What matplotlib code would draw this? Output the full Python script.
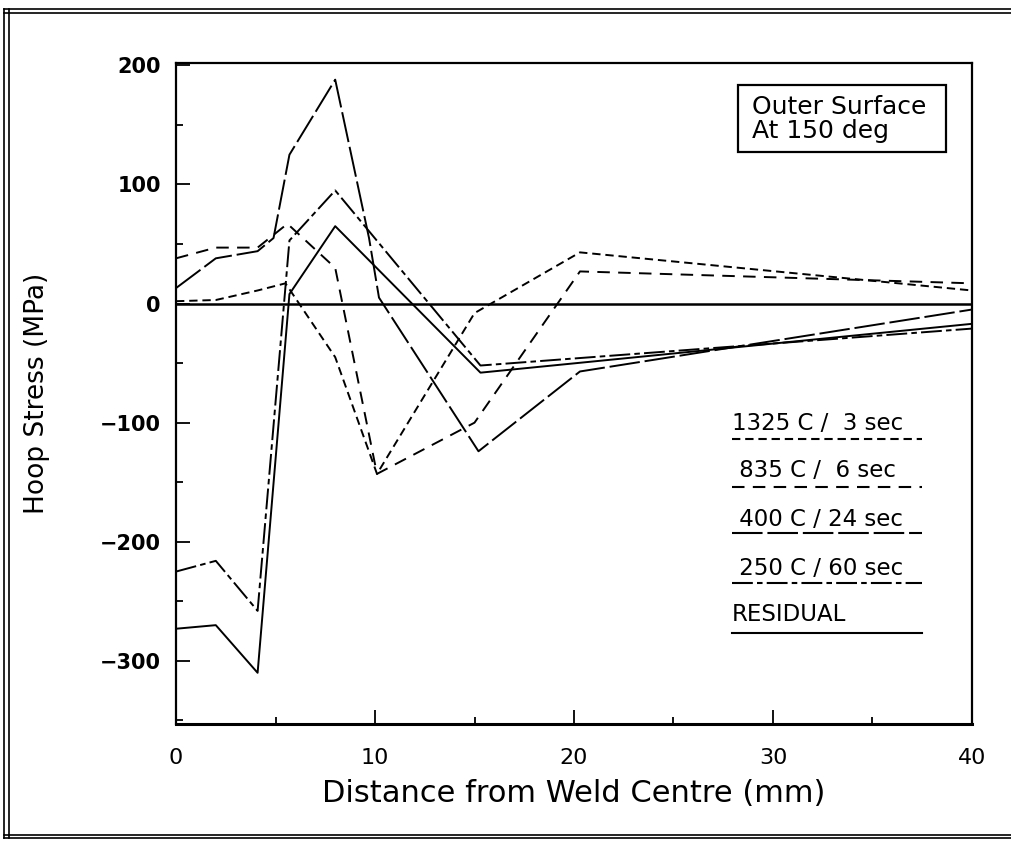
import matplotlib
matplotlib.use("Agg")
import matplotlib.pyplot as plt
from matplotlib.lines import Line2D
from matplotlib.patches import Rectangle

plt.rcParams["font.family"] = ["DejaVu Sans"]
plt.rcParams["lines.scale_dashes"] = False

# Dane
x_1325 = [0, 2, 4.1, 5.5, 8, 10.1, 15, 20.3, 40]
y_1325 = [2, 3, 11, 17, -45, -143, -8, 43, 11]

x_835 = [0, 2, 4.1, 5.6, 8, 10.1, 15, 20.3, 40]
y_835 = [38, 47, 47, 67, 30, -143, -100, 27, 17]

x_400 = [0, 2, 4.1, 4.9, 5.7, 8, 9.7, 10.2, 15.2, 20.3, 40]
y_400 = [13, 38, 44, 55, 125, 188, 55, 5, -124, -57, -5]

x_250 = [0, 2, 4.1, 5.7, 8, 15.3, 40]
y_250 = [-225, -216, -258, 53, 95, -52, -21]

x_res = [0, 2, 4.1, 5.7, 8, 15.3, 40]
y_res = [-273, -270, -310, 8, 65, -58, -17]

labels = ["1325 C /  3 sec", " 835 C /  6 sec", " 400 C / 24 sec",
          " 250 C / 60 sec", "RESIDUAL"]
styles = [(0, (6, 3.5)), (0, (9, 6)), (0, (22, 3.5)),
          (0, (15, 3, 4, 3)), "-"]

fig = plt.figure(figsize=(10.11, 8.41), dpi=100)
ax = fig.add_axes([0.1741, 0.1391, 0.7873, 0.786])

series = [(x_1325, y_1325), (x_835, y_835), (x_400, y_400),
          (x_250, y_250), (x_res, y_res)]
for (xs, ys), ls in zip(series, styles):
    ax.plot(xs, ys, color="black", linestyle=ls, linewidth=1.4)

ax.axhline(0, color="black", linewidth=1.8)

ax.set_xlim(0, 40)
ax.set_ylim(-353, 202)
ax.set_xticks([0, 10, 20, 30, 40])
ax.set_xticks([5, 15, 25, 35], minor=True)
ax.set_yticks([-300, -200, -100, 0, 100, 200])
ax.set_yticks([-350, -250, -150, -50, 50, 150], minor=True)
ax.set_yticklabels(["\u2212300", "\u2212200", "\u2212100", "0", "100", "200"],
                   fontweight="bold")
ax.tick_params(axis="both", which="major", direction="in", length=10,
               width=1.3, top=False, right=False)
ax.tick_params(axis="both", which="minor", direction="in", length=5,
               width=1.3, top=False, right=False)
ax.tick_params(axis="x", which="major", labelsize=16, pad=17)
ax.tick_params(axis="y", which="major", labelsize=15, pad=11)
for s in ax.spines.values():
    s.set_linewidth(1.6)
ax.spines["bottom"].set_linewidth(2.2)

ax.set_xlabel("Distance from Weld Centre (mm)", fontsize=22, labelpad=8)
ax.set_ylabel("Hoop Stress (MPa)", fontsize=19, labelpad=36)

# Ramka z opisem
ax.add_patch(Rectangle((0.706, 0.865), 0.2613, 0.1015, transform=ax.transAxes,
                       fill=False, edgecolor="black", linewidth=1.6))
ax.text(0.724, 0.916, "Outer Surface\nAt 150 deg", transform=ax.transAxes,
        fontsize=18, va="center", ha="left", linespacing=1.0)

# Legenda jako podkreślone napisy
text_y = [0.455, 0.383, 0.309, 0.236, 0.165]
line_y = [0.431, 0.3585, 0.289, 0.213, 0.138]
for lab, ls, ty, ly in zip(labels, styles, text_y, line_y):
    ax.text(0.698, ty, lab, transform=ax.transAxes, fontsize=16.5,
            va="center", ha="left")
    ax.plot([0.698, 0.937], [ly, ly], transform=ax.transAxes,
            color="black", linestyle=ls, linewidth=1.5)

# Podwójna ramka rysunku
W, H = 1011.0, 841.0
for xp in (4, 9):
    fig.add_artist(Line2D([xp / W, xp / W], [1 - 9 / H, 1 - 838 / H],
                          transform=fig.transFigure, color="black", linewidth=1.2))
for yp in (9, 13, 835, 838):
    fig.add_artist(Line2D([4 / W, 1.0], [1 - yp / H, 1 - yp / H],
                          transform=fig.transFigure, color="black", linewidth=1.2))

fig.savefig("out.png", dpi=100)
